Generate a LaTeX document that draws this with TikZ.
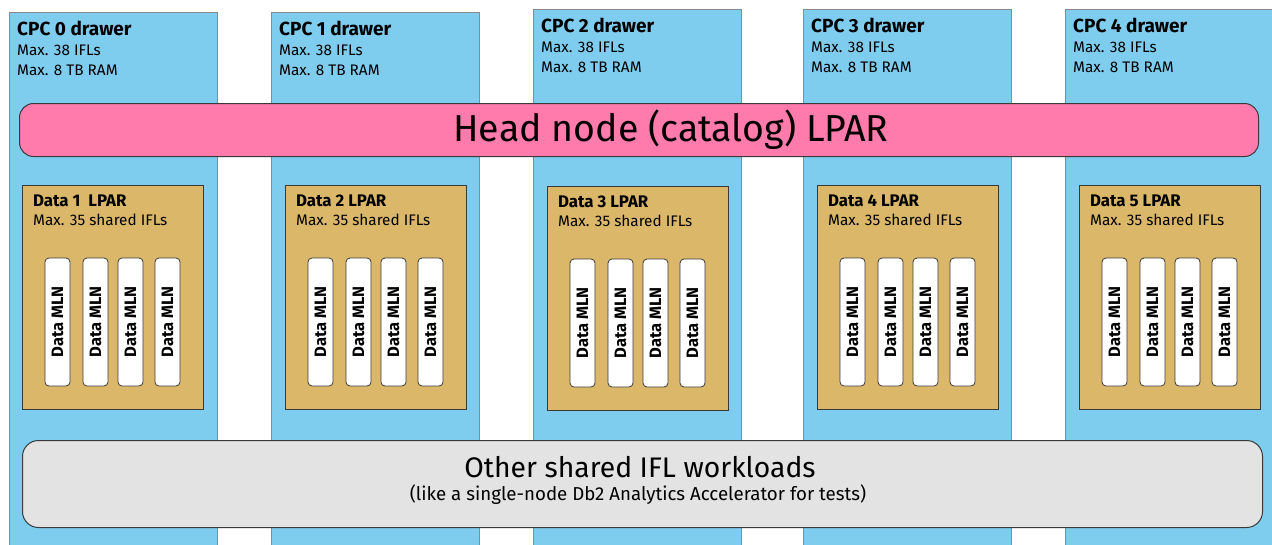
\documentclass[tikz,border=0pt]{standalone}
\usepackage{fontspec}
\setmainfont{Fira Sans}
\definecolor{drawerblue}{HTML}{7FCDEE}
\definecolor{drawerline}{HTML}{8A8A8A}
\definecolor{headpink}{HTML}{FF7BAC}
\definecolor{lpartan}{HTML}{DBB76A}
\definecolor{othergray}{HTML}{E3E3E3}
\definecolor{darkline}{HTML}{3A3A3A}
\begin{document}
\begin{tikzpicture}[x=1pt,y=-1pt,
  drawer/.style={draw=drawerline, fill=drawerblue, line width=1pt, minimum width=208pt, minimum height=540pt, anchor=north west, inner sep=0pt},
  headbox/.style={draw=darkline, fill=headpink, line width=1pt, rounded corners=14pt, minimum width=1239pt, minimum height=53pt, anchor=north west, inner sep=0pt},
  otherbox/.style={draw=darkline, fill=othergray, line width=1pt, rounded corners=16pt, minimum width=1240pt, minimum height=87pt, anchor=north west, inner sep=0pt},
  lparbox/.style={draw=darkline, fill=lpartan, line width=1pt, minimum width=181pt, minimum height=224pt, anchor=north west, inner sep=0pt},
  mlnbox/.style={draw=darkline, fill=white, line width=0.8pt, rounded corners=4pt, minimum width=128pt, minimum height=25pt, rotate=90, inner sep=0pt, font=\fontsize{16.5}{18}\selectfont\bfseries},
  title/.style={anchor=base west, inner sep=0pt, font=\fontsize{19}{21}\selectfont\bfseries},
  info/.style={anchor=base west, inner sep=0pt, font=\fontsize{15.3}{17}\selectfont},
  ltitle/.style={anchor=base west, inner sep=0pt, font=\fontsize{16.8}{18}\selectfont\bfseries}
]
\useasboundingbox (0,0) rectangle (1272,544);
% drawers
\foreach \i/\x/\t in {0/9/12,1/271/12,2/533/9,3/803/9,4/1065/9}{
  \node[drawer] (cpc\i) at (\x,\t) {};
  \node[title] (cpc\i t) at (\x+8,\t+23) {CPC \i\ drawer};
  \node[info] (cpc\i a) at (\x+8,\t+43) {Max. 38 IFLs};
  \node[info] (cpc\i b) at (\x+8,\t+63) {Max. 8 TB RAM};
}
% head node
\node[headbox] (head) at (19,103) {};
\node[anchor=base, inner sep=0pt, font=\fontsize{37.5}{42}\selectfont] (headt) at (671,141) {Head node (catalog) LPAR};
% other workloads
\node[otherbox] (other) at (22,440) {};
\node[anchor=base, inner sep=0pt, font=\fontsize{28.3}{32}\selectfont] (othert) at (640,477) {Other shared IFL workloads};
\node[anchor=base, inner sep=0pt, font=\fontsize{18.7}{21}\selectfont] (others) at (638,500) {(like a single-node Db2 Analytics Accelerator for tests)};
% data LPARs
\foreach \i/\x/\t/\lab in {1/22/185/{Data 1\ \ LPAR},2/285/185/{Data 2 LPAR},3/547/186/{Data 3 LPAR},4/817/185/{Data 4 LPAR},5/1079/185/{Data 5 LPAR}}{
  \node[lparbox] (lpar\i) at (\x,\t) {};
  \node[ltitle] (lpar\i t) at (\x+11,\t+21) {\lab};
  \node[info] (lpar\i a) at (\x+11,\t+40) {Max. 35 shared IFLs};
  \foreach \j/\o in {1/23,2/61,3/96,4/133}{
    \node[mlnbox] (mln\i\j) at (\x+\o+12.5,\t+137) {Data MLN};
  }
}
\end{tikzpicture}
\end{document}
